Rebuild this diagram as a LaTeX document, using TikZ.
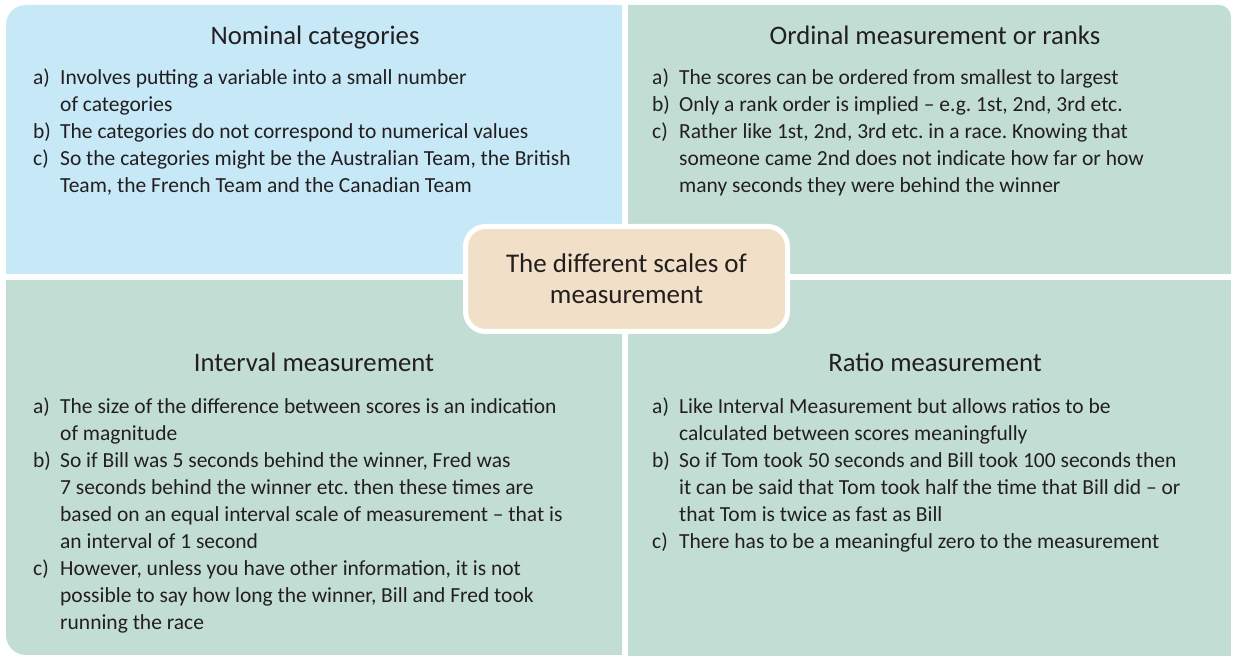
\documentclass[tikz,border=0pt]{standalone}
\usepackage{fontspec}
\setmainfont{Carlito}
\usepackage{array}
\usetikzlibrary{positioning}
\definecolor{panelBlue}{HTML}{C6E8F7}
\definecolor{panelGreen}{HTML}{C2DDD4}
\definecolor{centreTan}{HTML}{F1E0C7}
\definecolor{inkGrey}{HTML}{231F20}
\frenchspacing

\newcommand{\scalelist}[1]{\begin{tabular}{@{}p{27pt}@{}l@{}}#1\end{tabular}}

\begin{document}
\begin{tikzpicture}[x=1pt, y=1pt,
  every node/.style={text=inkGrey, inner sep=0pt},
  paneltitle/.style={font=\fontsize{26.7}{30}\selectfont, anchor=base},
  itemlist/.style={font=\fontsize{21.5}{27}\selectfont, anchor=north west},
  hub/.style={draw=white, line width=5pt, fill=centreTan, rounded corners=20pt,
             minimum width=322pt, minimum height=105pt, align=center,
             font=\fontsize{27}{31}\selectfont},
]
\useasboundingbox (0,0) rectangle (1235,656);

% Panels
\fill[panelBlue] (6,382) -- (6,631) arc[start angle=180, end angle=90, radius=20]
  -- (622,651) -- (622,382) -- cycle;
\fill[panelGreen] (628,382) -- (628,651) -- (1219,651)
  arc[start angle=90, end angle=0, radius=12] -- (1231,382) -- cycle;
\fill[panelGreen] (6,376) -- (622,376) -- (622,1) -- (26,1)
  arc[start angle=270, end angle=180, radius=20] -- cycle;
\fill[panelGreen] (628,376) -- (1231,376) -- (1231,0) -- (628,0) -- cycle;

% Titles
\node[paneltitle] (nomtitle) at (315,611) {Nominal categories};
\node[paneltitle] (ordtitle) at (935,611) {Ordinal measurement or ranks};
\node[paneltitle] (inttitle) at (314,284) {Interval measurement};
\node[paneltitle] (ratitle) at (935,284) {Ratio measurement};

% Lists
\node[itemlist] (nomlist) at (33,591) {\scalelist{%
  a) & Involves putting a variable into a small number\\
     & of categories\\
  b) & The categories do not correspond to numerical values\\
  c) & So the categories might be the Australian Team, the British\\
     & Team, the French Team and the Canadian Team}};
\node[itemlist] (ordlist) at (652,591) {\scalelist{%
  a) & The scores can be ordered from smallest to largest\\
  b) & Only a rank order is implied -- e.g. 1st, 2nd, 3rd etc.\\
  c) & Rather like 1st, 2nd, 3rd etc. in a race. Knowing that\\
     & someone came 2nd does not indicate how far or how\\
     & many seconds they were behind the winner}};
\node[itemlist] (intlist) at (33,262) {\scalelist{%
  a) & The size of the difference between scores is an indication\\
     & of magnitude\\
  b) & So if Bill was 5 seconds behind the winner, Fred was\\
     & 7 seconds behind the winner etc. then these times are\\
     & based on an equal interval scale of measurement -- that is\\
     & an interval of 1 second\\
  c) & However, unless you have other information, it is not\\
     & possible to say how long the winner, Bill and Fred took\\
     & running the race}};
\node[itemlist] (ratlist) at (652,262) {\scalelist{%
  a) & Like Interval Measurement but allows ratios to be\\
     & calculated between scores meaningfully\\
  b) & So if Tom took 50 seconds and Bill took 100 seconds then\\
     & it can be said that Tom took half the time that Bill did -- or\\
     & that Tom is twice as fast as Bill\\
  c) & There has to be a meaningful zero to the measurement}};

% Centre
\node[hub] (scales) at (626.5,377) {The different scales of\\measurement};

\end{tikzpicture}
\end{document}
